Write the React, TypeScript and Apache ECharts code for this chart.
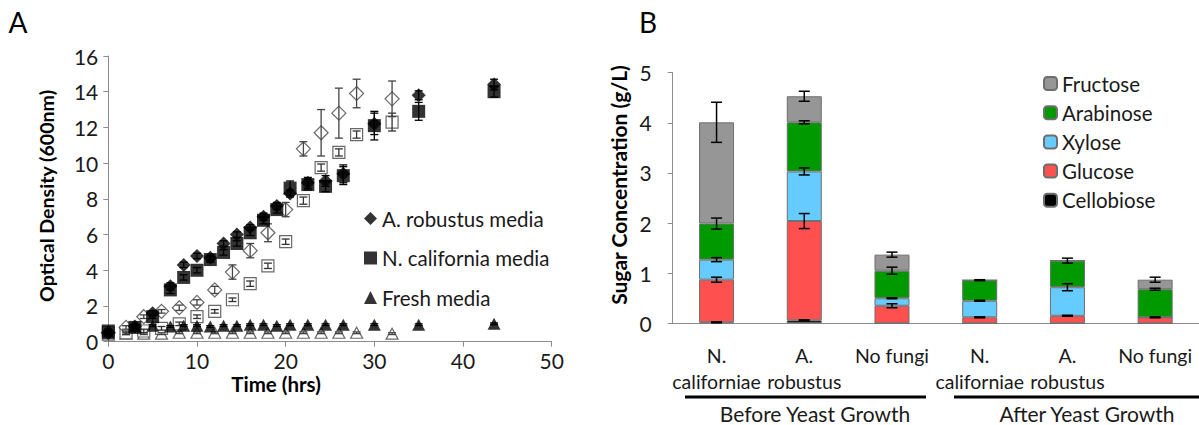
import React, { useEffect, useRef } from "react";
import * as echarts from "echarts";

const FONT = "Lato, 'Open Sans', sans-serif";
const AXIS_GREY = "#8c8c8c";

// ---- Panel A: growth curves (OD600 vs time) ----
const timeFilled = [0, 3, 5, 7, 8.5, 10, 11.5, 13, 14.5, 16, 17.5, 19, 20.5, 22.5, 24.5, 26.5, 30, 35, 43.5];
const robustusOD = [0.5, 0.85, 1.6, 3.1, 4.3, 4.8, 4.7, 5.5, 6.0, 6.4, 7.0, 7.6, 8.3, 8.9, 9.0, 9.4, 12.2, 13.8, 14.4];
const robustusErr = [0.1, 0.1, 0.15, 0.2, 0.15, 0.15, 0.15, 0.15, 0.15, 0.15, 0.2, 0.2, 0.2, 0.3, 0.3, 0.5, 0.6, 0.25, 0.3];
const californiaOD = [0.6, 0.8, 1.4, 2.9, 3.6, 4.0, 4.6, 5.0, 5.5, 6.1, 6.8, 7.4, 8.6, 8.8, 8.7, 9.3, 12.1, 12.9, 14.0];
const californiaErr = [0.1, 0.1, 0.1, 0.2, 0.15, 0.15, 0.15, 0.15, 0.15, 0.15, 0.2, 0.2, 0.4, 0.3, 0.3, 0.5, 0.8, 0.5, 0.3];
const freshOD = [0.5, 0.85, 0.9, 0.85, 0.9, 0.9, 0.85, 0.9, 0.9, 0.95, 0.95, 0.9, 0.95, 0.95, 0.95, 0.95, 0.95, 0.95, 1.0];
const freshErr = [0.05, 0.05, 0.05, 0.05, 0.05, 0.05, 0.05, 0.05, 0.05, 0.05, 0.05, 0.05, 0.05, 0.05, 0.05, 0.05, 0.05, 0.05, 0.05];

const timeOpen = [0, 2, 4, 6, 8, 10, 12, 14, 16, 18, 20, 22, 24, 26, 28, 32];
const robustusOD2 = [0.5, 0.8, 1.4, 1.7, 1.9, 2.2, 2.9, 3.9, 5.1, 6.1, 7.4, 10.8, 11.7, 12.8, 13.9, 13.6];
const robustusErr2 = [0.1, 0.1, 0.1, 0.1, 0.15, 0.15, 0.2, 0.4, 0.4, 0.5, 0.4, 0.4, 1.3, 1.4, 0.8, 1.0];
const californiaOD2 = [0.5, 0.5, 0.6, 0.75, 1.0, 1.4, 1.7, 2.35, 3.25, 4.25, 5.6, 7.9, 9.75, 10.6, 11.6, 12.3];
const californiaErr2 = [0.1, 0.1, 0.1, 0.1, 0.1, 0.1, 0.1, 0.1, 0.15, 0.15, 0.15, 0.2, 0.2, 0.2, 0.2, 0.5];
const freshOD2 = [0.4, 0.45, 0.45, 0.45, 0.5, 0.5, 0.5, 0.5, 0.5, 0.5, 0.5, 0.5, 0.5, 0.5, 0.5, 0.45];
const freshErr2 = [0.05, 0.05, 0.05, 0.05, 0.05, 0.05, 0.05, 0.05, 0.05, 0.05, 0.05, 0.05, 0.05, 0.05, 0.05, 0.05];

// ---- Panel B: sugar composition ----
const sugarCategories = ["N.\ncaliforniae", "A.\nrobustus", "No fungi", "N.\ncaliforniae", "A.\nrobustus", "No fungi"];
const cellobiose = [0.02, 0.06, 0, 0, 0, 0];
const cellobioseErr = [0.01, 0.01, 0, 0, 0, 0];
const glucose = [0.85, 1.98, 0.35, 0.12, 0.15, 0.12];
const glucoseErr = [0.05, 0.15, 0.04, 0.01, 0.01, 0.01];
const xylose = [0.4, 0.99, 0.15, 0.33, 0.57, 0];
const xyloseErr = [0.04, 0.07, 0.01, 0.01, 0.07, 0];
const arabinose = [0.72, 0.98, 0.55, 0.41, 0.53, 0.56];
const arabinoseErr = [0.11, 0.03, 0.07, 0.01, 0.05, 0.02];
const fructose = [2.02, 0.52, 0.32, 0, 0, 0.19];
const fructoseErr = [0.4, 0.1, 0.05, 0, 0, 0.05];

const sugars = [
  { name: "Cellobiose", values: cellobiose, err: cellobioseErr, color: "#000000" },
  { name: "Glucose", values: glucose, err: glucoseErr, color: "#ff5050" },
  { name: "Xylose", values: xylose, err: xyloseErr, color: "#66ccff" },
  { name: "Arabinose", values: arabinose, err: arabinoseErr, color: "#009900" },
  { name: "Fructose", values: fructose, err: fructoseErr, color: "#969696" },
];

const errRender = (cap: number, color: string, lw: number) => (params: any, api: any) => {
  const x = api.value(0);
  const y = api.value(1);
  const e = api.value(2);
  const hi = api.coord([x, y + e]);
  const lo = api.coord([x, y - e]);
  const style = { stroke: color, lineWidth: lw, fill: "none" };
  return {
    type: "group",
    children: [
      { type: "line", shape: { x1: hi[0], y1: hi[1], x2: lo[0], y2: lo[1] }, style },
      { type: "line", shape: { x1: hi[0] - cap, y1: hi[1], x2: hi[0] + cap, y2: hi[1] }, style },
      { type: "line", shape: { x1: lo[0] - cap, y1: lo[1], x2: lo[0] + cap, y2: lo[1] }, style },
    ],
  };
};

const pts = (t: number[], v: number[]) => t.map((x, i) => [x, v[i]]);
const errPts = (t: number[], v: number[], e: number[]) => t.map((x, i) => [x, v[i], e[i]]);

export default function App() {
  const ref = useRef<HTMLDivElement>(null);

  useEffect(() => {
    if (!ref.current) return;
    const chart = echarts.init(ref.current, undefined, { renderer: "svg" });

    // cumulative tops for the stacked-bar error bars
    const running = sugarCategories.map(() => 0);
    const barErrData: number[][] = [];
    sugars.forEach((s) => {
      s.values.forEach((v, i) => {
        running[i] += v;
        if (v > 0) barErrData.push([i, running[i], s.err[i]]);
      });
    });

    const scatter = (name: string, t: number[], v: number[], symbol: string, size: number | number[], filled: boolean, z: number) => ({
      type: "scatter",
      name,
      xAxisIndex: 0,
      yAxisIndex: 0,
      data: pts(t, v),
      symbol,
      symbolSize: size,
      z,
      itemStyle: filled
        ? { color: "#000", borderColor: "#000", borderWidth: 0 }
        : { color: "#fff", borderColor: "#444", borderWidth: 1.2 },
    });
    const errSeries = (t: number[], v: number[], e: number[], color: string, z: number) => ({
      type: "custom",
      xAxisIndex: 0,
      yAxisIndex: 0,
      data: errPts(t, v, e),
      renderItem: errRender(4, color, 1.3),
      z,
      silent: true,
    });

    const option: any = {
      animation: false,
      textStyle: { fontFamily: FONT },
      grid: [
        { left: 108.3, top: 56, width: 443.4, height: 285.7 },
        { left: 672.7, top: 72.7, width: 536, height: 250.6 },
      ],
      xAxis: [
        {
          type: "value",
          gridIndex: 0,
          min: 0,
          max: 50,
          interval: 10,
          splitLine: { show: false },
          axisLine: { lineStyle: { color: AXIS_GREY } },
          axisTick: { length: 5, lineStyle: { color: AXIS_GREY } },
          axisLabel: { fontSize: 21, color: "#1a1a1a", margin: 8, fontFamily: FONT },
        },
        {
          type: "category",
          gridIndex: 1,
          data: sugarCategories,
          axisLine: { lineStyle: { color: AXIS_GREY } },
          axisTick: { length: 6, lineStyle: { color: AXIS_GREY } },
          axisLabel: { fontSize: 19.5, color: "#1a1a1a", margin: 19, lineHeight: 26, fontFamily: FONT, interval: 0 },
        },
      ],
      yAxis: [
        {
          type: "value",
          gridIndex: 0,
          min: 0,
          max: 16,
          interval: 2,
          splitLine: { show: false },
          axisLine: { show: true, lineStyle: { color: AXIS_GREY } },
          axisTick: { show: true, length: 5, lineStyle: { color: AXIS_GREY } },
          axisLabel: { fontSize: 21, color: "#1a1a1a", margin: 10, fontFamily: FONT },
        },
        {
          type: "value",
          gridIndex: 1,
          min: 0,
          max: 5,
          interval: 1,
          splitLine: { show: false },
          axisLine: { show: true, lineStyle: { color: AXIS_GREY } },
          axisTick: { show: true, length: 5, lineStyle: { color: AXIS_GREY } },
          axisLabel: { fontSize: 21, color: "#1a1a1a", margin: 21, fontFamily: FONT },
        },
      ],
      legend: [
        {
          orient: "vertical",
          left: 364,
          top: 208,
          padding: 0,
          itemWidth: 13,
          itemHeight: 13,
          itemGap: 18.5,
          textStyle: { fontSize: 20.5, color: "#1a1a1a", fontFamily: FONT, lineHeight: 20 },
          data: [
            { name: "A. robustus media", icon: "diamond" },
            { name: "N. california media", icon: "rect" },
            { name: "Fresh media", icon: "triangle" },
          ],
        },
        {
          orient: "vertical",
          left: 1043,
          top: 73,
          padding: 0,
          itemWidth: 13,
          itemHeight: 13,
          itemGap: 8.2,
          textStyle: { fontSize: 20.5, color: "#1a1a1a", fontFamily: FONT, lineHeight: 20 },
          data: ["Fructose", "Arabinose", "Xylose", "Glucose", "Cellobiose"],
        },
      ],
      series: [
        // second run (open symbols)
        errSeries(timeOpen, freshOD2, freshErr2, "#444", 3),
        scatter("Fresh media, run 2", timeOpen, freshOD2, "triangle", [12, 11], false, 2),
        scatter("N. california media, run 2", timeOpen, californiaOD2, "rect", 12, false, 2),
        errSeries(timeOpen, californiaOD2, californiaErr2, "#333", 3),
        scatter("A. robustus media, run 2", timeOpen, robustusOD2, "diamond", 14, false, 2),
        errSeries(timeOpen, robustusOD2, robustusErr2, "#444", 3),
        // first run (filled symbols)
        errSeries(timeFilled, freshOD, freshErr, "#000", 4),
        errSeries(timeFilled, californiaOD, californiaErr, "#000", 4),
        errSeries(timeFilled, robustusOD, robustusErr, "#000", 4),
        scatter("Fresh media", timeFilled, freshOD, "triangle", [13, 12], true, 5),
        scatter("N. california media", timeFilled, californiaOD, "rect", 13, true, 5),
        scatter("A. robustus media", timeFilled, robustusOD, "diamond", 14, true, 5),
        // stacked sugar bars
        ...sugars.map((s) => ({
          type: "bar",
          name: s.name,
          xAxisIndex: 1,
          yAxisIndex: 1,
          stack: "sugar",
          barWidth: 35,
          data: s.values,
          itemStyle: { color: s.color, borderColor: "#6e6e6e", borderWidth: 1 },
        })),
        {
          type: "custom",
          xAxisIndex: 1,
          yAxisIndex: 1,
          data: barErrData,
          renderItem: errRender(5.5, "#000", 1.5),
          z: 6,
          silent: true,
        },
      ],
      graphic: [
        { type: "text", x: 18, y: 22, style: { text: "A", fontSize: 28, fontFamily: FONT, fill: "#000", align: "center", verticalAlign: "middle" } },
        { type: "text", x: 648, y: 22, style: { text: "B", fontSize: 28, fontFamily: FONT, fill: "#000", align: "center", verticalAlign: "middle" } },
        {
          type: "text", x: 46, y: 196, rotation: Math.PI / 2,
          style: { text: "Optical Density (600nm)", fontSize: 19.6, fontWeight: "bold", fontFamily: FONT, fill: "#000", align: "center", verticalAlign: "middle" },
        },
        { type: "text", x: 276, y: 384, style: { text: "Time (hrs)", fontSize: 20.5, fontWeight: "bold", fontFamily: FONT, fill: "#000", align: "center", verticalAlign: "middle" } },
        {
          type: "text", x: 618, y: 185, rotation: Math.PI / 2,
          style: { text: "Sugar Concentration (g/L)", fontSize: 21, fontWeight: "bold", fontFamily: FONT, fill: "#000", align: "center", verticalAlign: "middle" },
        },
        { type: "line", shape: { x1: 685, y1: 397, x2: 926, y2: 397 }, style: { stroke: "#000", lineWidth: 3 } },
        { type: "line", shape: { x1: 954, y1: 397, x2: 1210, y2: 397 }, style: { stroke: "#000", lineWidth: 3 } },
        { type: "text", x: 815, y: 413, style: { text: "Before Yeast Growth", fontSize: 21, fontFamily: FONT, fill: "#1a1a1a", align: "center", verticalAlign: "middle" } },
        { type: "text", x: 1087, y: 413, style: { text: "After Yeast Growth", fontSize: 21, fontFamily: FONT, fill: "#1a1a1a", align: "center", verticalAlign: "middle" } },
      ],
    };

    chart.setOption(option);
    return () => chart.dispose();
  }, []);

  return <div ref={ref} style={{ position: "absolute", left: 0, top: 0, width: 1199, height: 425, background: "#fff" }} />;
}
